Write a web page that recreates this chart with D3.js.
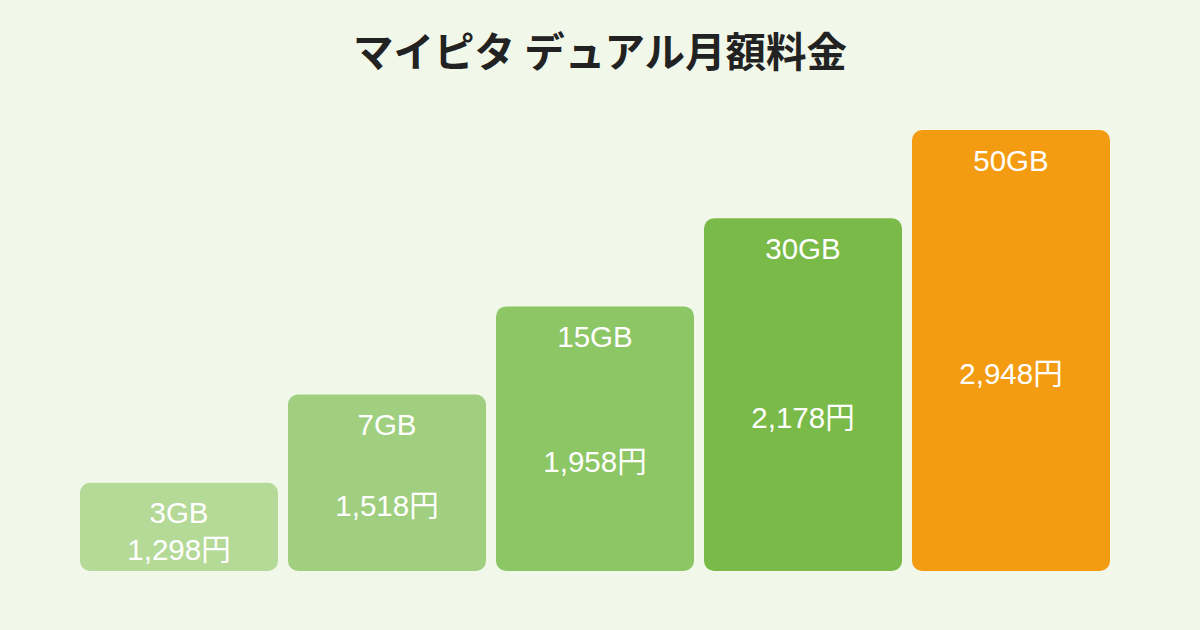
<!DOCTYPE html>
<html>
<head>
<meta charset="utf-8">
<script src="https://cdn.jsdelivr.net/npm/d3@7"></script>
<style>
  html, body { margin: 0; padding: 0; background: #f1f8e9; }
  svg { display: block; }
  text { font-family: "Noto Sans CJK JP", "Noto Sans", sans-serif; }
  text.label { font-family: "Liberation Sans", Arial, "Noto Sans CJK JP", sans-serif; }
</style>
</head>
<body>
<svg id="chart"></svg>
<script>
// Plans shown left to right
const plans = ['3GB', '7GB', '15GB', '30GB', '50GB'];
// Monthly price (yen)
const prices = [1298, 1518, 1958, 2178, 2948];
// Bars are drawn as equal steps, not to price scale
const steps = [1, 2, 3, 4, 5];
const barColors = ['#b5da98', '#a0cf80', '#8dc665', '#7aba48', '#f39c12'];

const width = 1200, height = 630;
const svg = d3.select('#chart')
    .attr('width', width)
    .attr('height', height);

svg.append('rect')
    .attr('width', width)
    .attr('height', height)
    .attr('fill', '#f1f8e9');

svg.append('text')
    .attr('x', 600)
    .attr('y', 67)
    .attr('text-anchor', 'middle')
    .attr('font-size', 40.5)
    .attr('font-weight', 700)
    .attr('fill', '#222')
    .text('マイピタ デュアル月額料金');

const x = d3.scaleBand()
    .domain(plans)
    .range([80, 1110])
    .paddingInner(10 / 208);

const y = d3.scaleLinear()
    .domain([0, 5])
    .range([571, 130]);

const rows = plans.map((p, i) => ({ plan: p, price: prices[i], step: steps[i], color: barColors[i] }));

const bar = svg.selectAll('g.bar')
    .data(rows)
    .enter().append('g')
    .attr('class', 'bar');

bar.append('rect')
    .attr('x', d => x(d.plan))
    .attr('y', d => y(d.step))
    .attr('width', x.bandwidth())
    .attr('height', d => y(0) - y(d.step))
    .attr('rx', 10)
    .attr('fill', d => d.color);

bar.append('text')
    .attr('class', 'label')
    .attr('x', d => x(d.plan) + x.bandwidth() / 2)
    .attr('y', d => y(d.step) + 40.5)
    .attr('text-anchor', 'middle')
    .attr('font-size', 29.5)
    .attr('fill', '#fff')
    .text(d => d.plan);

bar.append('text')
    .attr('class', 'label')
    .attr('x', d => x(d.plan) + x.bandwidth() / 2)
    .attr('y', d => (y(d.step) + y(0)) / 2 + 33)
    .attr('text-anchor', 'middle')
    .attr('font-size', 29.5)
    .attr('fill', '#fff')
    .text(d => d3.format(',')(d.price) + '円');
</script>
</body>
</html>
